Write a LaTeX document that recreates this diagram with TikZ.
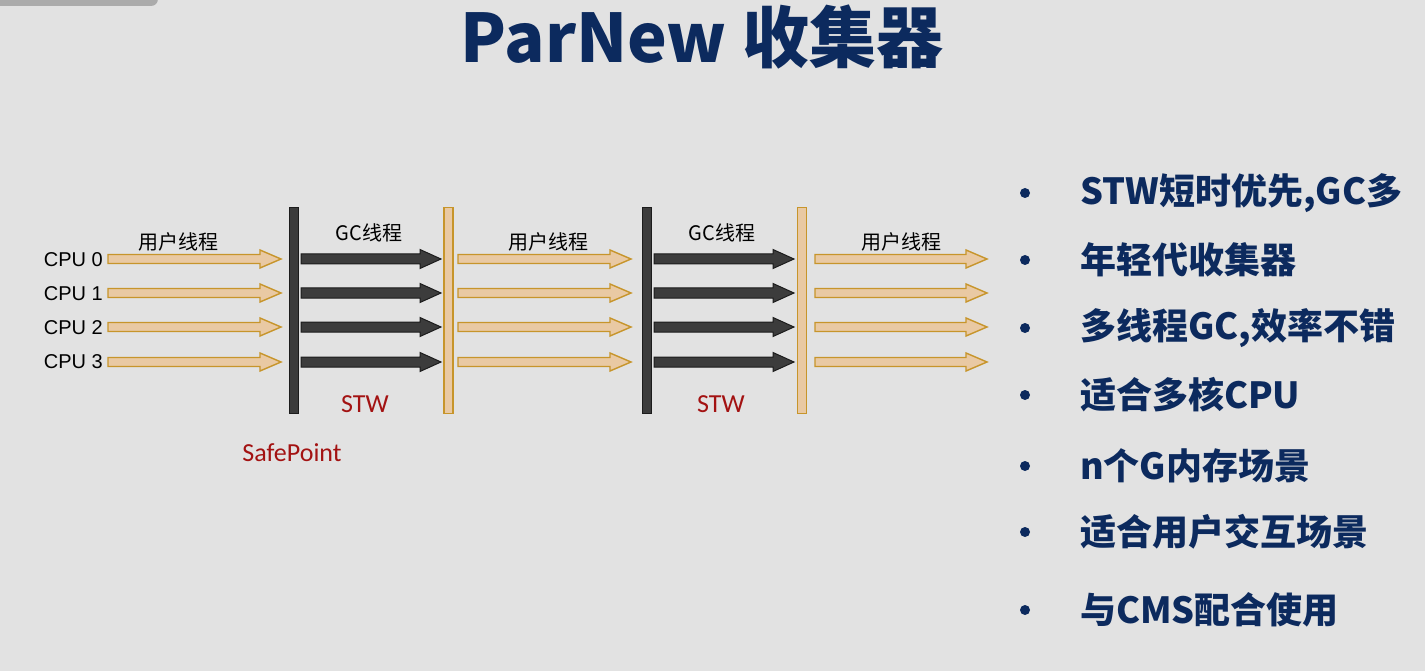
\documentclass[tikz,border=0pt]{standalone}
\usepackage{fontspec}
\setmainfont{Liberation Sans}
\newfontfamily\cjk{Noto Sans CJK SC}
\newfontfamily\calib{Carlito}

\definecolor{bgcol}{HTML}{E2E2E2}
\definecolor{tabcol}{HTML}{ABABAB}
\definecolor{navy}{HTML}{0C2A5E}
\definecolor{usrfill}{HTML}{E9C9A3}
\definecolor{usredge}{HTML}{C7952B}
\definecolor{gcfill}{HTML}{3C3C3C}
\definecolor{gcedge}{HTML}{1C1C1C}
\definecolor{stwred}{HTML}{A31212}

% horizontal block arrow: style, start x, tip x, centre y, shaft half, head half
\newcommand\blockarrow[6]{%
  \path[#1] (#2,#4-#5) -- (#3-21,#4-#5) -- (#3-21,#4-#6) -- (#3,#4)
    -- (#3-21,#4+#6) -- (#3-21,#4+#5) -- (#2,#4+#5) -- cycle;}

\begin{document}
\begin{tikzpicture}[x=1pt,y=-1pt,
  usrarrow/.style={fill=usrfill,draw=usredge,line width=1.4pt,line join=miter},
  gcarrow/.style={fill=gcfill,draw=gcedge,line width=1pt,line join=miter},
  darkbar/.style={rectangle,inner sep=0pt,minimum width=9pt,minimum height=206pt,
    fill=gcfill,draw=gcedge,line width=1pt},
  lightbar/.style={rectangle,inner sep=0pt,minimum width=9pt,minimum height=206pt,
    fill=usrfill,draw=usredge,line width=1.4pt},
  cpulabel/.style={anchor=east,inner sep=0pt,font=\fontsize{20}{24}\selectfont},
  thrlabel/.style={inner sep=0pt,font=\cjk\fontsize{20}{24}\selectfont},
  redlabel/.style={inner sep=0pt,text=stwred,font=\calib\fontsize{26}{30}\selectfont},
  bullettext/.style={anchor=west,inner sep=0pt,text=navy,
    font=\cjk\bfseries\fontsize{36}{40}\selectfont},
  dot/.style={circle,fill=navy,inner sep=0pt,minimum size=10pt}]

\fill[bgcol] (0,0) rectangle (1425,671);
\useasboundingbox (0,0) rectangle (1425,671);

% window tab in the corner
\fill[tabcol,rounded corners=7pt] (-20,-20) rectangle (158,6);

% title
\node[inner sep=0pt,text=navy,font=\cjk\bfseries\fontsize{67}{72}\selectfont]
  (title) at (702,37) {ParNew 收集器};

% CPU labels
\node[cpulabel] (cpu0) at (103,259.5) {CPU 0};
\node[cpulabel] (cpu1) at (103,293.5) {CPU 1};
\node[cpulabel] (cpu2) at (103,327.5) {CPU 2};
\node[cpulabel] (cpu3) at (103,362) {CPU 3};

% safepoint / stw bars
\node[darkbar]  (sp1)  at (293.5,310.5) {};
\node[lightbar] (end1) at (448.5,310.5) {};
\node[darkbar]  (sp2)  at (647,310.5) {};
\node[lightbar] (end2) at (802,310.5) {};

% thread arrows
\foreach \y in {259,293,327,362}{
  \blockarrow{usrarrow}{108}{281}{\y}{4.5}{9}
  \blockarrow{gcarrow}{301}{441}{\y}{5}{9.5}
  \blockarrow{usrarrow}{458}{631}{\y}{4.5}{9}
  \blockarrow{gcarrow}{654}{794}{\y}{5}{9.5}
  \blockarrow{usrarrow}{815}{987}{\y}{4.5}{9}
}

% arrow labels
\node[thrlabel] (u1) at (178,242) {用户线程};
\node[thrlabel] (g1) at (369,233) {GC线程};
\node[thrlabel] (u2) at (548,242) {用户线程};
\node[thrlabel] (g2) at (722,233) {GC线程};
\node[thrlabel] (u3) at (901,242) {用户线程};

\node[redlabel] (stw1) at (365,404) {STW};
\node[redlabel] (stw2) at (721,404) {STW};
\node[redlabel] (safe) at (292,453) {SafePoint};

% feature list
\foreach \y/\t [count=\i] in {193/STW短时优先{,}GC多, 260/年轻代收集器, 328/多线程GC{,}效率不错,
    395/适合多核CPU, 466/n个G内存场景, 532/适合用户交互场景, 610/与CMS配合使用}{
  \node[dot] (d\i) at (1025,\y) {};
  \node[bullettext] (t\i) at (1080,\y) {\t};
}
\end{tikzpicture}
\end{document}
